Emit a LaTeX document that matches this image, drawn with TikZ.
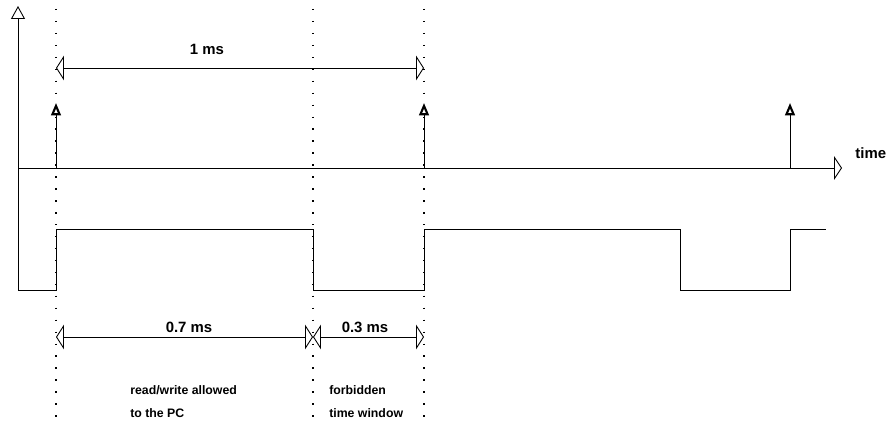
\documentclass[tikz,border=0pt]{standalone}
\usepackage{fontspec}
\setmainfont{Liberation Sans}
\usepackage{tikz}
\usetikzlibrary{arrows.meta}

\begin{document}
\begin{tikzpicture}[x=0.02cm, y=-0.02cm, line width=0.5pt, yaxis/.style={-{Triangle[open,length=7.4pt,width=8pt]}}, taxis/.style={-{Triangle[open,length=4.5pt,width=13.5pt]}}, dim/.style={{Triangle[open,length=4.5pt,width=14pt]}-{Triangle[open,length=4.5pt,width=14pt]}}, pulse/.style={-{Triangle[open,length=7pt,width=5.5pt,line width=1.2pt]}}, marker/.style={dash pattern=on 0.8pt off 6pt, line width=0.7pt}, dimlabel/.style={font=\bfseries\fontsize{8.5}{10}\selectfont}, note/.style={font=\bfseries\fontsize{7}{8}\selectfont, anchor=west}]

\useasboundingbox (0,0) rectangle (888,421);

\coordinate (origin) at (18,290);
\coordinate (ytop) at (18,6);
\coordinate (tstart) at (18,168);
\coordinate (tend) at (842,168);

\coordinate (atop) at (56,9);
\coordinate (abot) at (56,420);
\coordinate (btop) at (313,9);
\coordinate (bbot) at (313,420);
\coordinate (ctop) at (424,9);
\coordinate (cbot) at (424,420);

\coordinate (pa) at (56,168);
\coordinate (pb) at (424,168);
\coordinate (pc) at (790,168);
\coordinate (patip) at (56,103);
\coordinate (pbtip) at (424,103);
\coordinate (pctip) at (790,103);

\coordinate (longl) at (56,68);
\coordinate (longr) at (424,68);
\coordinate (shortl) at (56,337);
\coordinate (shortm) at (313,337);
\coordinate (shortr) at (424,337);

\node[dimlabel] (onems) at (207,49) {1 ms};
\node[dimlabel] (sevenms) at (189,327) {0.7 ms};
\node[dimlabel] (threems) at (365,327) {0.3 ms};
\node[dimlabel, anchor=west, inner sep=0pt] (timelabel) at (855,153) {time};
\node[note] (allowed) at (124,390) {read/write allowed};
\node[note] (topc) at (124,413) {to the PC};
\node[note] (forbidden) at (323,390) {forbidden};
\node[note] (window) at (323,413) {time window};

\draw[marker] (atop) -- (abot);
\draw[marker] (btop) -- (bbot);
\draw[marker] (ctop) -- (cbot);

\draw[yaxis] (origin) -- (ytop);
\draw[taxis] (tstart) -- (tend);

\draw[pulse] (pa) -- (patip);
\draw[pulse] (pb) -- (pbtip);
\draw[pulse] (pc) -- (pctip);

\draw (origin) -- (56,290) -- (56,229) -- (313,229) -- (313,290) -- (424,290) -- (424,229) -- (680,229) -- (680,290) -- (790,290) -- (790,229) -- (826,229);

\draw[dim] (longl) -- (longr);
\draw[dim] (shortl) -- (shortm);
\draw[dim] (shortm) -- (shortr);

\end{tikzpicture}
\end{document}
